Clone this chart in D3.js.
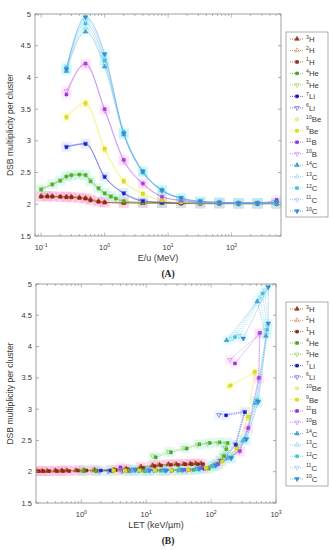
<!DOCTYPE html>
<html>
<head>
<meta charset="utf-8">
<script src="https://cdn.jsdelivr.net/npm/d3@7"></script>
<style>
body { margin: 0; background: #fff; }
svg { display: block; font-family: "Liberation Sans", Arial, sans-serif; }
</style>
</head>
<body>
<svg id="chart" width="330" height="550"></svg>
<script>
// energies per nucleon (MeV)
const eH = [0.1,0.125,0.15,0.2,0.25,0.3,0.4,0.5,0.6,0.8,1,2,4,8,16,32,64,128,256,512];
const eHe = [0.1,0.15,0.2,0.25,0.3,0.4,0.5,0.6,0.8,1,1.25,1.5,2,4,8,16,32,64,128,256,512];
const eHeavy = [0.25,0.5,1,2,4,8,16,32,64,128,256,512];

// DSB multiplicity per cluster
const dsb3H  = [2.13,2.13,2.13,2.12,2.12,2.12,2.11,2.10,2.08,2.05,2.03,2.03,2.02,2.02,2.02,2.02,2.02,2.01,2.01,2.01];
const dsb2H  = [2.12,2.13,2.12,2.12,2.12,2.11,2.10,2.09,2.07,2.04,2.03,2.02,2.02,2.02,2.02,2.01,2.01,2.01,2.01,2.01];
const dsb1H  = [2.12,2.12,2.12,2.12,2.11,2.11,2.10,2.09,2.06,2.04,2.03,2.02,2.02,2.02,2.01,2.01,2.01,2.01,2.01,2.01];
const dsb4He = [2.23,2.31,2.37,2.44,2.46,2.47,2.46,2.36,2.25,2.17,2.12,2.09,2.05,2.03,2.02,2.02,2.01,2.01,2.01,2.01,2.01];
const dsb3He = [2.25,2.32,2.38,2.43,2.45,2.46,2.46,2.38,2.26,2.18,2.13,2.09,2.05,2.03,2.02,2.02,2.02,2.02,2.02,2.02,2.02];
const dsb7Li = [2.90,2.95,2.43,2.17,2.05,2.03,2.02,2.02,2.02,2.02,2.02,2.02];
const dsb6Li = [2.91,2.96,2.44,2.18,2.06,2.03,2.02,2.02,2.02,2.01,2.01,2.01];
const dsb10Be = [3.36,3.57,2.85,2.35,2.16,2.06,2.03,2.02,2.02,2.02,2.02,2.02];
const dsb9Be  = [3.38,3.60,2.88,2.37,2.17,2.06,2.03,2.02,2.02,2.02,2.02,2.02];
const dsb11B = [3.73,4.22,3.50,2.70,2.33,2.12,2.06,2.03,2.02,2.02,2.02,2.07];
const dsb10B = [3.79,4.20,3.48,2.68,2.32,2.12,2.06,2.03,2.02,2.02,2.02,2.03];
const dsb14C = [4.10,4.72,4.17,3.10,2.50,2.22,2.09,2.04,2.03,2.02,2.02,2.02];
const dsb13C = [4.12,4.78,4.22,3.12,2.51,2.22,2.09,2.04,2.03,2.02,2.02,2.02];
const dsb12C = [4.15,4.85,4.27,3.14,2.52,2.23,2.10,2.04,2.03,2.02,2.02,2.02];
const dsb11C = [4.17,4.90,4.33,3.10,2.50,2.21,2.09,2.04,2.03,2.02,2.02,2.02];
const dsb10C = [4.13,4.95,4.37,3.12,2.52,2.22,2.10,2.05,2.03,2.02,2.02,2.03];

// LET (keV/um) of the same points, panel B
const let3H  = [70,58,48,38,29,22,16,12.6,8.3,4.9,3.2,1.6,1.1,0.83,0.6,0.5,0.4,0.3,0.25,0.2];
const let2H  = [66,55,46,36,27,21,15,12,8,4.6,3,1.5,1.05,0.8,0.58,0.47,0.38,0.29,0.24,0.21];
const let1H  = [75,62,50,40,31,24,17,13.5,9,5.2,3.4,1.7,1.2,0.9,0.65,0.52,0.42,0.32,0.26,0.22];
const let4He = [14,24,42,66,95,135,180,172,158,142,126,110,92,54,32,17,9.5,5.4,3,1.7,1.1];
const let3He = [12.6,22,38,62,88,126,170,165,150,135,120,105,88,50,30,16,9,5,2.8,1.6,1];
const let7Li = [170,332,241,145,80,45,25,14,8,4.5,2.8,2.0];
const let6Li = [132,325,235,140,76,42,24,13,7.5,4.2,2.6,1.9];
const let10Be = [188,460,362,242,146,82,44,24,13.5,7.8,4.6,3.1];
const let9Be  = [200,473,374,250,150,85,45,25,14,8,4.8,3.2];
const let11B = [233,565,546,374,278,127,70,38,20,11,6,4];
const let10B = [195,555,538,366,272,124,68,37,19.5,10.6,5.8,3.9];
const let14C = [173,514,700,480,310,180,105,58,32,18,10,6];
const let13C = [200,560,715,495,320,188,108,60,33,18.5,10.3,6.2];
const let12C = [233,620,730,508,332,195,112,62,34,19,10.6,6.4];
const let11C = [270,675,745,520,340,200,115,64,35,19.5,11,6.6];
const let10C = [313,760,760,535,350,205,118,66,36,20,11.3,6.8];

const yTicks = [1.5,2,2.5,3,3.5,4,4.5,5];

const series = [
  {mass:"3",  el:"H",  e:eH,     dsb:dsb3H,  let:let3H,  color:"#9c3b12", shape:"up",   open:false, halo:"#ff9fd0"},
  {mass:"2",  el:"H",  e:eH,     dsb:dsb2H,  let:let2H,  color:"#c8783a", shape:"up",   open:true,  halo:"#ff9fd0"},
  {mass:"1",  el:"H",  e:eH,     dsb:dsb1H,  let:let1H,  color:"#8b2c10", shape:"sq",   open:false, halo:"#ff9fd0"},
  {mass:"4",  el:"He", e:eHe,    dsb:dsb4He, let:let4He, color:"#45a82a", shape:"sq",   open:false, halo:"#a6f0d8"},
  {mass:"3",  el:"He", e:eHe,    dsb:dsb3He, let:let3He, color:"#8cc83a", shape:"down", open:true,  halo:"#a6f0d8"},
  {mass:"7",  el:"Li", e:eHeavy, dsb:dsb7Li, let:let7Li, color:"#1414c8", shape:"sq",   open:false, halo:"#b8d8ff"},
  {mass:"6",  el:"Li", e:eHeavy, dsb:dsb6Li, let:let6Li, color:"#4848e0", shape:"down", open:true,  halo:"#b8d8ff"},
  {mass:"10", el:"Be", e:eHeavy, dsb:dsb10Be,let:let10Be,color:"#f4f49c", shape:"sq",   open:false, halo:"#fffbb0"},
  {mass:"9",  el:"Be", e:eHeavy, dsb:dsb9Be, let:let9Be, color:"#e6e600", shape:"sq",   open:false, halo:"#fffbb0"},
  {mass:"11", el:"B",  e:eHeavy, dsb:dsb11B, let:let11B, color:"#9a30e0", shape:"sq",   open:false, halo:"#ffb0f0"},
  {mass:"10", el:"B",  e:eHeavy, dsb:dsb10B, let:let10B, color:"#c46ef0", shape:"down", open:true,  halo:"#ffb0f0"},
  {mass:"14", el:"C",  e:eHeavy, dsb:dsb14C, let:let14C, color:"#42a6d6", shape:"up",   open:false, halo:"#a8f4fa"},
  {mass:"13", el:"C",  e:eHeavy, dsb:dsb13C, let:let13C, color:"#82c6ee", shape:"up",   open:true,  halo:"#a8f4fa"},
  {mass:"12", el:"C",  e:eHeavy, dsb:dsb12C, let:let12C, color:"#34cfe0", shape:"sq",   open:false, halo:"#a8f4fa"},
  {mass:"11", el:"C",  e:eHeavy, dsb:dsb11C, let:let11C, color:"#8eb8f8", shape:"down", open:true,  halo:"#a8f4fa"},
  {mass:"10", el:"C",  e:eHeavy, dsb:dsb10C, let:let10C, color:"#3290e0", shape:"down", open:false, halo:"#a8f4fa"}
];

const svg = d3.select("#chart");
const axisGrey = "#8a8a8a", textGrey = "#3a3a3a";

function marker(sel, s, size) {
  const type = s.shape == "sq" ? d3.symbolSquare : d3.symbolTriangle;
  sel.attr("d", d3.symbol().type(type).size(s.shape == "sq" ? size : size * 1.15)())
    .attr("fill", s.open ? "none" : s.color)
    .attr("stroke", s.open ? s.color : d3.color(s.color).darker(0.4))
    .attr("stroke-width", 0.55);
}

function drawPanel(o) {
  const x = d3.scaleLog().domain(o.xDomain).range([o.left, o.right]);
  const y = d3.scaleLinear().domain([1.5, 5]).range([o.bottom, o.top]);
  const g = svg.append("g");

  g.append("clipPath").attr("id", o.id + "clip").append("rect")
    .attr("x", o.left).attr("y", o.top)
    .attr("width", o.right - o.left).attr("height", o.bottom - o.top);

  const plot = g.append("g").attr("clip-path", `url(#${o.id}clip)`);

  // pale error boxes
  series.forEach(s => {
    plot.append("g").selectAll("rect")
      .data(s.dsb.map((v, i) => [o.xOf(s)[i], v]))
      .join("rect")
      .attr("x", d => x(d[0]) - 5).attr("y", d => y(d[1]) - 5)
      .attr("width", 10).attr("height", 10)
      .attr("fill", s.halo).attr("opacity", 0.2);
  });

  // lines
  const line = d3.line().x(d => x(d[0])).y(d => y(d[1])).curve(o.curve);
  series.forEach(s => {
    plot.append("path")
      .datum(s.dsb.map((v, i) => [o.xOf(s)[i], v]))
      .attr("d", line)
      .attr("fill", "none")
      .attr("stroke", s.color)
      .attr("stroke-opacity", 0.55)
      .attr("stroke-width", 0.75)
      .attr("stroke-dasharray", o.dash);
  });

  // markers
  series.forEach(s => {
    plot.append("g").selectAll("path")
      .data(s.dsb.map((v, i) => [o.xOf(s)[i], v]))
      .join("path")
      .attr("transform", d => `translate(${x(d[0])},${y(d[1])})` + (s.shape == "down" ? " rotate(180)" : ""))
      .call(sel => marker(sel, s, 8));
  });

  // box
  g.append("rect")
    .attr("x", o.left).attr("y", o.top)
    .attr("width", o.right - o.left).attr("height", o.bottom - o.top)
    .attr("fill", "none").attr("stroke", axisGrey).attr("stroke-width", 0.8);

  // y ticks
  yTicks.forEach(t => {
    g.append("line").attr("x1", o.left).attr("x2", o.left + 3)
      .attr("y1", y(t)).attr("y2", y(t)).attr("stroke", axisGrey).attr("stroke-width", 0.7);
    g.append("line").attr("x1", o.right).attr("x2", o.right - 3)
      .attr("y1", y(t)).attr("y2", y(t)).attr("stroke", axisGrey).attr("stroke-width", 0.7);
    g.append("text").attr("x", o.left - 4).attr("y", y(t)).attr("dy", "0.35em")
      .attr("text-anchor", "end").attr("font-size", 7.5).attr("fill", textGrey)
      .text(d3.format("~g")(t));
  });

  // x ticks (log)
  x.ticks().forEach(t => {
    const major = Math.abs(Math.log10(t) - Math.round(Math.log10(t))) < 1e-9;
    const len = major ? 3.5 : 2;
    g.append("line").attr("x1", x(t)).attr("x2", x(t))
      .attr("y1", o.bottom).attr("y2", o.bottom - len).attr("stroke", axisGrey).attr("stroke-width", 0.6);
    g.append("line").attr("x1", x(t)).attr("x2", x(t))
      .attr("y1", o.top).attr("y2", o.top + len).attr("stroke", axisGrey).attr("stroke-width", 0.6);
    if (major) {
      const lab = g.append("text").attr("x", x(t)).attr("y", o.bottom + 14)
        .attr("text-anchor", "middle").attr("fill", textGrey);
      lab.append("tspan").attr("font-size", 7.5).text("10");
      lab.append("tspan").attr("font-size", 5.2).attr("dy", -3.5).text(Math.round(Math.log10(t)));
    }
  });

  // axis titles
  g.append("text")
    .attr("transform", `translate(13,${(o.top + o.bottom) / 2}) rotate(-90)`)
    .attr("text-anchor", "middle").attr("font-size", 8.6).attr("fill", textGrey)
    .text("DSB multiplicity per cluster");
  g.append("text").attr("x", (o.left + o.right) / 2).attr("y", o.bottom + 25)
    .attr("text-anchor", "middle").attr("font-size", 9).attr("fill", textGrey)
    .text(o.xTitle);
  g.append("text").attr("x", 168).attr("y", o.bottom + 41)
    .attr("text-anchor", "middle").attr("font-size", 9.5).attr("font-weight", "bold")
    .attr("font-family", "'Liberation Serif', 'Times New Roman', serif").attr("fill", "#222")
    .text(o.tag);

  // legend
  const lg = g.append("g");
  lg.append("rect").attr("x", 286).attr("y", o.legTop)
    .attr("width", 42).attr("height", o.legH)
    .attr("fill", "#fff").attr("stroke", axisGrey).attr("stroke-width", 0.7);
  series.forEach((s, i) => {
    const ly = o.legTop + 7 + i * o.legStep;
    lg.append("line").attr("x1", 290).attr("x2", 304).attr("y1", ly).attr("y2", ly)
      .attr("stroke", s.color).attr("stroke-width", 0.7).attr("stroke-dasharray", "1,1");
    lg.append("path")
      .attr("transform", `translate(297,${ly})` + (s.shape == "down" ? " rotate(180)" : ""))
      .call(sel => marker(sel, s, 8));
    const t = lg.append("text").attr("x", 306).attr("y", ly + 3).attr("fill", textGrey);
    t.append("tspan").attr("font-size", 5.2).attr("dy", -3.5).text(s.mass);
    t.append("tspan").attr("font-size", 7.8).attr("dy", 3.5).text(s.el);
  });
}

drawPanel({
  id: "a", left: 35, right: 281, top: 14, bottom: 236,
  xDomain: [0.08, 600], xOf: s => s.e, curve: d3.curveMonotoneX, dash: null,
  xTitle: "E/u (MeV)", tag: "(A)", legTop: 32, legH: 185, legStep: 11.47
});
drawPanel({
  id: "b", left: 36, right: 276, top: 284, bottom: 503,
  xDomain: [0.2, 1000], xOf: s => s.let, curve: d3.curveLinear, dash: "1.6,0.8",
  xTitle: "LET (keV/\u00b5m)", tag: "(B)", legTop: 302, legH: 184, legStep: 11.33
});
</script>
</body>
</html>
